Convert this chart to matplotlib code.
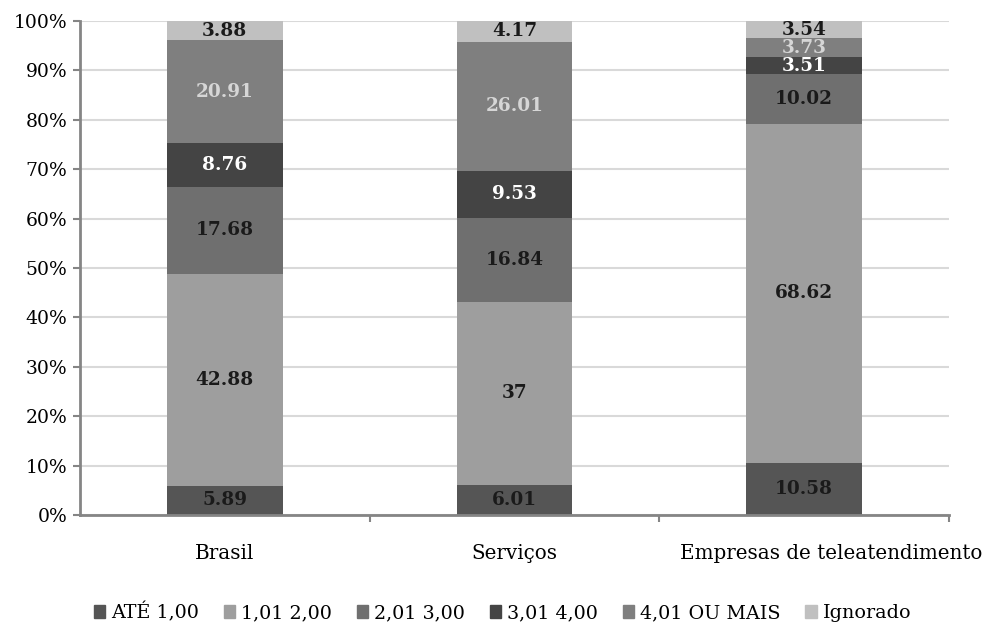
import matplotlib
matplotlib.use("Agg")
import matplotlib.pyplot as plt
import matplotlib.transforms as mtransforms
import numpy as np
from matplotlib.patches import Patch

plt.rcParams["font.family"] = ["DejaVu Serif"]

CATEGORIES = ["Brasil", "Serviços", "Empresas de teleatendimento"]
SERIES = ["ATÉ 1,00", "1,01 2,00", "2,01 3,00", "3,01 4,00", "4,01 OU MAIS", "Ignorado"]

ATE_1 = [5.89, 6.01, 10.58]
DE_1_2 = [42.88, 37, 68.62]
DE_2_3 = [17.68, 16.84, 10.02]
DE_3_4 = [8.76, 9.53, 3.51]
MAIS_4 = [20.91, 26.01, 3.73]
IGNORADO = [3.88, 4.17, 3.54]

COLORS = ["#555555", "#9e9e9e", "#6f6f6f", "#444444", "#7f7f7f", "#c0c0c0"]
LABEL_COLORS = ["#1a1a1a", "#1a1a1a", "#1a1a1a", "#ffffff", "#d6d6d6", "#1a1a1a"]

data = np.array([ATE_1, DE_1_2, DE_2_3, DE_3_4, MAIS_4, IGNORADO], dtype=float)
# 100% stacked: each column scaled to its own total
shares = data / data.sum(axis=0) * 100

fig = plt.figure(figsize=(9.89, 6.26), dpi=100)
ax = fig.add_axes([0.0809, 0.1773, 0.8787, 0.7892])

x = np.arange(len(CATEGORIES))
bottom = np.zeros(len(CATEGORIES))
for name, vals, pct, col, lcol in zip(SERIES, data, shares, COLORS, LABEL_COLORS):
    ax.bar(x, pct, 0.4, bottom=bottom, color=col, label=name, zorder=2)
    for xi, b, p, v in zip(x, bottom, pct, vals):
        ax.text(xi, b + p / 2, f"{v:g}", ha="center", va="center",
                fontsize=13.3, fontweight="bold", color=lcol, zorder=3)
    bottom += pct

ax.set_xlim(-0.5, 2.5)
ax.set_ylim(0, 100)
ax.set_yticks(range(0, 101, 10))
ax.set_yticklabels([f"{v}%" for v in range(0, 101, 10)], fontsize=13.5)
ax.set_xticks(x)
ax.set_xticklabels(CATEGORIES, fontsize=14.3)
ax.set_xticks([0.5, 1.5, 2.5], minor=True)
ax.tick_params(axis="x", which="major", length=0, pad=21)
ax.tick_params(axis="x", which="minor", length=5, width=1.5, color="#858585")
ax.tick_params(axis="y", length=5, width=1.5, color="#858585", pad=4)

# the long last label is pushed right so it stays inside the figure edge
last = ax.get_xticklabels()[-1]
last.set_transform(last.get_transform() +
                   mtransforms.ScaledTranslation(0.27, 0, fig.dpi_scale_trans))

ax.grid(axis="y", color="#d9d9d9", lw=1.5, zorder=0)
for side in ("top", "right"):
    ax.spines[side].set_visible(False)
for side in ("left", "bottom"):
    ax.spines[side].set_color("#858585")
    ax.spines[side].set_linewidth(2)

handles = [Patch(color=c) for c in COLORS]
fig.legend(handles, SERIES, loc="center", bbox_to_anchor=(0.508, 0.022), ncol=6,
           frameon=False, fontsize=13.8, handlelength=0.6, handleheight=0.6,
           handletextpad=0.3, columnspacing=1.3)

fig.savefig("out.png")
